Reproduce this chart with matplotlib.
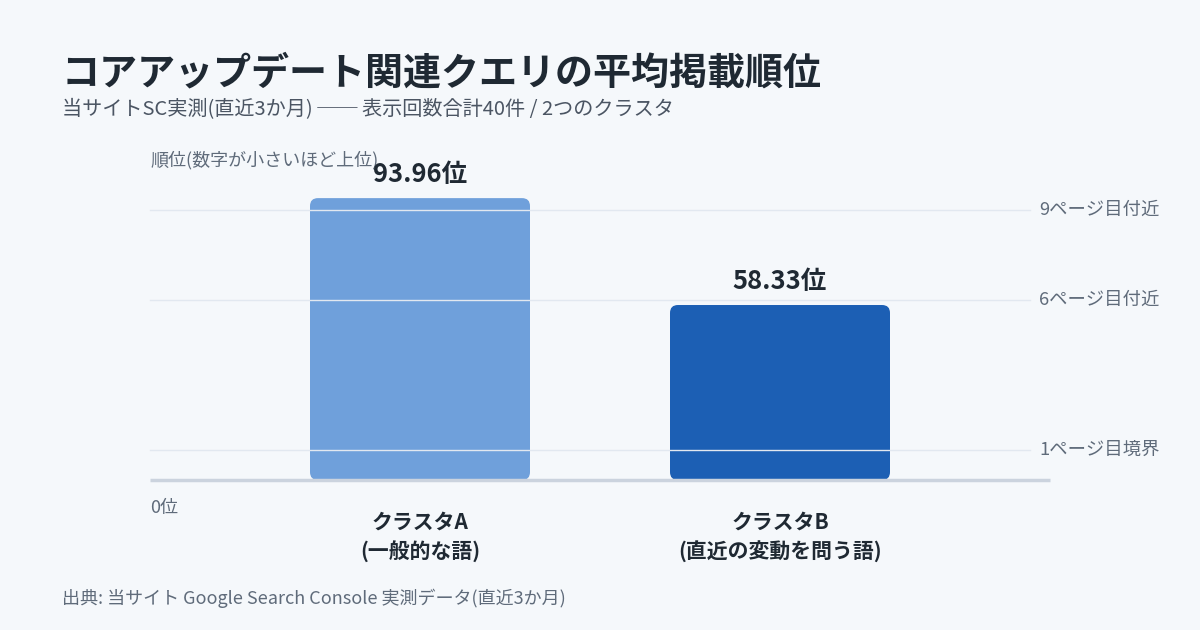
import matplotlib
matplotlib.use('Agg')
import matplotlib.pyplot as plt
from matplotlib.patches import FancyBboxPatch

plt.rcParams['font.family'] = ['Noto Sans CJK JP', 'DejaVu Sans']

# データ
categories = ['クラスタA\n(一般的な語)', 'クラスタB\n(直近の変動を問う語)']
avg_rank = [93.96, 58.33]
bar_colors = ['#6fa0db', '#1c5fb4']
ref_lines = [90, 60, 10]
ref_labels = ['9ページ目付近', '6ページ目付近', '1ページ目境界']

BG = '#f5f8fb'
fig = plt.figure(figsize=(12, 6.3), dpi=100, facecolor=BG)
ax = fig.add_axes([0.125, 150 / 630, 0.75, 300 / 630])
ax.set_facecolor(BG)
ax.set_xlim(-0.75, 1.75)
ax.set_ylim(0, 100)
for s in ax.spines.values():
    s.set_visible(False)
ax.set_xticks([])
ax.set_yticks([])

# 角丸バー
width = 220 / 360
for i, (v, c) in enumerate(zip(avg_rank, bar_colors)):
    p = FancyBboxPatch((i - width / 2, 0), width, v,
                       boxstyle='round,pad=0,rounding_size=0.022',
                       mutation_aspect=120, facecolor=c, edgecolor='none',
                       zorder=2, clip_on=False)
    ax.add_patch(p)
    ax.text(i, v + 3.3, f'{v:.2f}位', ha='center', va='bottom',
            fontsize=18.4, fontweight='bold', color='#1f2933', zorder=4)
    ax.text(i, -10.5, categories[i], ha='center', va='top', fontsize=15,
            fontweight='bold', color='#1f2933', linespacing=1.45)

# 目安線
for y, lab in zip(ref_lines, ref_labels):
    ax.plot([-0.75, 1.695], [y, y], color='#e2e8f0', lw=1, zorder=3,
            clip_on=False)
    ax.text(1.72, y, lab, ha='left', va='center', fontsize=13.2,
            color='#5f6b7a')

# 基準線
ax.plot([-0.75, 1.75], [0, 0], color='#cbd3de', lw=2.5, zorder=3,
        solid_capstyle='butt', clip_on=False)

ax.text(-0.75, -6.2, '0位', ha='left', va='top', fontsize=13, color='#5f6b7a')
ax.text(-0.75, 106.5, '順位(数字が小さいほど上位)', ha='left', va='center',
        fontsize=13, color='#5f6b7a')

# タイトル
fig.text(62 / 1200, 1 - 73 / 630, 'コアアップデート関連クエリの平均掲載順位',
         ha='left', va='center', fontsize=27.4, fontweight='bold', color='#1f2933')
fig.text(62 / 1200, 1 - 110 / 630,
         '当サイトSC実測(直近3か月) ── 表示回数合計40件 / 2つのクラスタ',
         ha='left', va='center', fontsize=14.5, color='#4b5563')
fig.text(62 / 1200, 1 - 598 / 630,
         '出典: 当サイト Google Search Console 実測データ(直近3か月)',
         ha='left', va='center', fontsize=13, color='#5f6b7a')

fig.savefig('out.png', dpi=100, facecolor=BG)
